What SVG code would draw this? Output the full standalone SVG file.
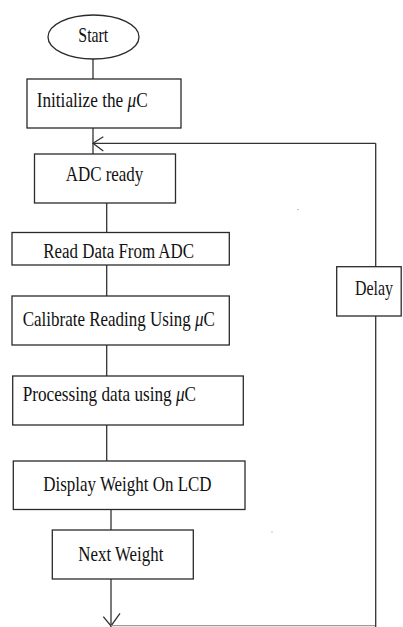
<svg xmlns="http://www.w3.org/2000/svg" width="403" height="627" viewBox="0 0 403 627">
  <style>
    .box { fill: #ffffff; stroke: #2a2a2a; stroke-width: 1.3; }
    .lbl { font-family: "Liberation Serif", "Times New Roman", serif; font-size: 20px; fill: #111111; }
    .mu { font-style: italic; }
    .wire { fill: none; stroke: #333333; stroke-width: 1.3; }
    .wire-light { fill: none; stroke: #999999; stroke-width: 1.3; }
    .speck { fill: #888888; }
  </style>
  <rect width="403" height="627" fill="#ffffff"/>

  <!-- connectors -->
  <g id="connectors">
    <line class="wire" x1="93" y1="59" x2="93" y2="79"/>
    <line class="wire" x1="93" y1="128" x2="93" y2="154"/>
    <line class="wire" x1="106.7" y1="203" x2="106.7" y2="232.5"/>
    <line class="wire" x1="106.7" y1="265" x2="106.7" y2="296"/>
    <line class="wire" x1="106.7" y1="345" x2="106.7" y2="376"/>
    <line class="wire" x1="106.7" y1="425" x2="106.7" y2="461"/>
    <line class="wire" x1="111" y1="509.5" x2="111" y2="530"/>
    <line class="wire" x1="111" y1="579" x2="111" y2="627"/>
    <!-- downward open arrowhead at the bottom -->
    <polyline class="wire" points="103.3,616.7 111,626 120,613.3"/>
    <!-- return path through Delay back to ADC ready -->
    <line class="wire-light" x1="111" y1="625.7" x2="376" y2="625.7"/>
    <line class="wire" x1="375.7" y1="627" x2="375.7" y2="316"/>
    <line class="wire" x1="375.7" y1="266.7" x2="375.7" y2="143.3"/>
    <line class="wire" x1="375.7" y1="143.3" x2="93" y2="143.3"/>
    <polyline class="wire" points="103.3,136.7 93,143.3 103.3,151"/>
  </g>

  <!-- labels are drawn in a condensed serif: horizontal scale only -->
  <g id="start">
    <ellipse class="box" cx="93.5" cy="37" rx="45.5" ry="22"/>
    <text class="lbl" transform="translate(78.3,41.7) scale(0.794,1)">Start</text>
  </g>

  <g id="init">
    <rect class="box" x="27" y="79" width="154" height="49"/>
    <text class="lbl" transform="translate(36.7,106.7) scale(0.861,1)">Initialize the <tspan class="mu">μ</tspan>C</text>
  </g>

  <g id="adc-ready">
    <rect class="box" x="34.5" y="154" width="141" height="49"/>
    <text class="lbl" transform="translate(65.7,181) scale(0.847,1)">ADC ready</text>
  </g>

  <g id="read-data">
    <rect class="box" x="12" y="232.5" width="217.3" height="32.5"/>
    <text class="lbl" transform="translate(43.3,258.3) scale(0.846,1)">Read Data From ADC</text>
  </g>

  <g id="calibrate">
    <rect class="box" x="12" y="296" width="217.3" height="49"/>
    <text class="lbl" transform="translate(22.7,325.7) scale(0.85,1)">Calibrate Reading Using <tspan class="mu">μ</tspan>C</text>
  </g>

  <g id="processing">
    <rect class="box" x="12.7" y="376" width="230.6" height="49"/>
    <text class="lbl" transform="translate(22.7,400.5) scale(0.86,1)">Processing data using <tspan class="mu">μ</tspan>C</text>
  </g>

  <g id="display">
    <rect class="box" x="13.3" y="461" width="231.7" height="48.5"/>
    <text class="lbl" transform="translate(43.3,491) scale(0.848,1)">Display Weight On LCD</text>
  </g>

  <g id="next-weight">
    <rect class="box" x="52.3" y="530" width="141" height="49"/>
    <text class="lbl" transform="translate(78.3,561) scale(0.844,1)">Next Weight</text>
  </g>

  <g id="delay">
    <rect class="box" x="336.7" y="266.7" width="64.5" height="49.3"/>
    <text class="lbl" transform="translate(355,294.5) scale(0.796,1)">Delay</text>
  </g>

  <!-- stray specks -->
  <rect class="speck" x="297.5" y="209" width="1" height="1"/>
  <rect class="speck" x="271.5" y="531.5" width="1" height="1"/>
</svg>
